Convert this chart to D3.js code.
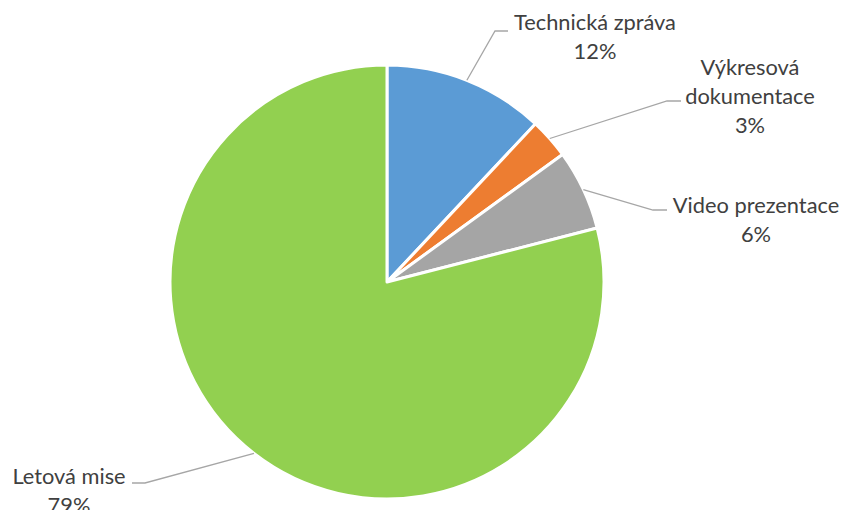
<!DOCTYPE html>
<html>
<head>
<meta charset="utf-8">
<script src="https://cdn.jsdelivr.net/npm/d3@7"></script>
<style>
  body { margin: 0; background: #fff; }
  text { font-family: Lato, "Open Sans", sans-serif; fill: #404040; }
</style>
</head>
<body>
<svg width="842" height="510"></svg>
<script>
const categories = ["Technická zpráva", "Výkresová dokumentace", "Video prezentace", "Letová mise"];
const values = [12, 3, 6, 79];
const colors = ["#5b9bd5", "#ed7d31", "#a5a5a5", "#92d050"];

// label layout: text lines, anchor point, leader elbow & end
const labelLayout = [
  { lines: ["Technická zpráva", "12%"], x: 595, y: 22, elbow: [495, 31], end: [508, 31] },
  { lines: ["Výkresová", "dokumentace", "3%"], x: 750, y: 67, elbow: [667, 101], end: [681, 101] },
  { lines: ["Video prezentace", "6%"], x: 756, y: 205, elbow: [653, 210], end: [667, 210] },
  { lines: ["Letová mise", "79%"], x: 69, y: 476, elbow: [145, 483], end: [132, 483] }
];

const svg = d3.select("svg");
const cx = 387, cy = 282, r = 217;

const data = categories.map((c, i) => ({ name: c, value: values[i], color: colors[i], layout: labelLayout[i] }));

const pie = d3.pie().value(d => d.value).sort(null);
const arc = d3.arc().innerRadius(0).outerRadius(r);
const arcs = pie(data);

const g = svg.append("g").attr("transform", `translate(${cx},${cy})`);

g.selectAll("path")
  .data(arcs)
  .enter()
  .append("path")
  .attr("d", arc)
  .attr("fill", d => d.data.color)
  .attr("stroke", "#fff")
  .attr("stroke-width", 3)
  .attr("stroke-linejoin", "round");

// leader lines + labels
arcs.forEach(a => {
  const mid = (a.startAngle + a.endAngle) / 2;
  const sx = cx + Math.sin(mid) * r;
  const sy = cy - Math.cos(mid) * r;
  const L = a.data.layout;
  svg.append("polyline")
    .attr("points", [[sx, sy], L.elbow, L.end].map(p => p.join(",")).join(" "))
    .attr("fill", "none")
    .attr("stroke", "#a6a6a6")
    .attr("stroke-width", 1.3);

  const t = svg.append("text")
    .attr("x", L.x)
    .attr("y", L.y)
    .attr("text-anchor", "middle")
    .attr("font-size", "21.8px");
  L.lines.forEach((line, i) => {
    t.append("tspan")
      .attr("x", L.x)
      .attr("dy", i === 0 ? "0.35em" : "29px")
      .text(line);
  });
});
</script>
</body>
</html>
